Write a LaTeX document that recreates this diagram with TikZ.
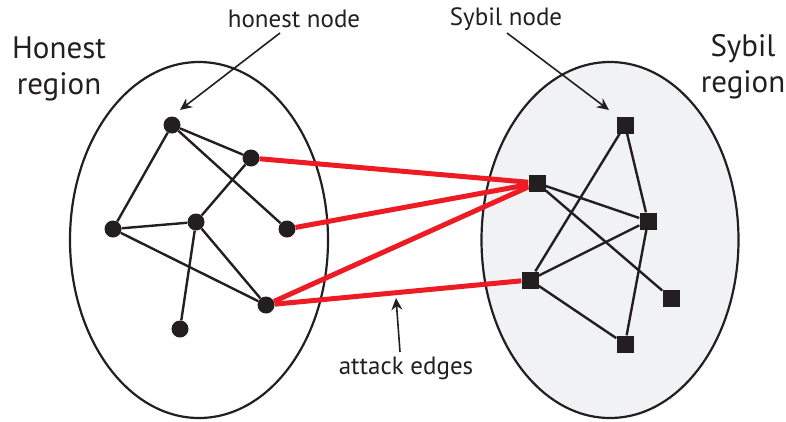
\documentclass[tikz,border=0pt]{standalone}
\usepackage{fontspec}
\setmainfont{PT Sans}
\usetikzlibrary{arrows.meta,backgrounds}
\definecolor{attackred}{RGB}{237,28,36}
\definecolor{sybilfill}{RGB}{241,242,244}
\definecolor{inkblack}{RGB}{35,31,32}
\tikzset{
  hnode/.style={circle, fill=inkblack, inner sep=0pt, minimum size=17pt},
  snode/.style={rectangle, fill=inkblack, inner sep=0pt, minimum size=17pt},
  edge/.style={draw=inkblack, line width=2.4pt},
  attack/.style={draw=attackred, line width=5pt},
  region/.style={draw=inkblack, line width=2.2pt},
  pointer/.style={draw=inkblack, line width=1.6pt, -{Stealth[length=12pt,width=11pt]}},
  biglabel/.style={font=\fontsize{31}{36}\selectfont, text=inkblack, align=center, inner sep=0pt},
  smalllabel/.style={font=\fontsize{25}{28}\selectfont, text=inkblack, inner sep=0pt}
}
\begin{document}
\begin{tikzpicture}[x=1pt,y=-1pt]
\useasboundingbox (0,0) rectangle (786,421);
% honest nodes
\node[hnode] (A) at (172,125) {};
\node[hnode] (B) at (251,158) {};
\node[hnode] (C) at (113,229) {};
\node[hnode] (D) at (196,222) {};
\node[hnode] (E) at (287,229) {};
\node[hnode] (F) at (266,305) {};
\node[hnode] (G) at (180,329) {};
% sybil nodes
\node[snode] (S1) at (625,125) {};
\node[snode] (S2) at (537,183) {};
\node[snode] (S3) at (648,221) {};
\node[snode] (S4) at (530,280) {};
\node[snode] (S5) at (671,298) {};
\node[snode] (S6) at (625,344) {};
\begin{pgfonlayer}{background}
% regions
\draw[region] (199,240) ellipse [x radius=129, y radius=178];
\draw[region, fill=sybilfill] (610,240) ellipse [x radius=128.5, y radius=178];
% honest edges
\draw[edge] (A) -- (C);
\draw[edge] (A) -- (B);
\draw[edge] (A) -- (E);
\draw[edge] (B) -- (D);
\draw[edge] (C) -- (D);
\draw[edge] (C) -- (F);
\draw[edge] (D) -- (F);
\draw[edge] (D) -- (G);
% sybil edges
\draw[edge] (S1) -- (S4);
\draw[edge] (S1) -- (S3);
\draw[edge] (S2) -- (S3);
\draw[edge] (S2) -- (S5);
\draw[edge] (S3) -- (S4);
\draw[edge] (S3) -- (S6);
\draw[edge] (S4) -- (S6);
% attack edges
\draw[attack] (B) -- (S2);
\draw[attack] (E) -- (S2);
\draw[attack] (F) -- (S2);
\draw[attack] (F) -- (S4);
\end{pgfonlayer}
% labels
\node[biglabel] (hreg) at (59,69) {Honest\\region};
\node[biglabel] (sreg) at (743,67) {Sybil\\region};
\node[smalllabel] (hlab) at (294,19) {honest node};
\node[smalllabel] (slab) at (506,19) {Sybil node};
\node[smalllabel] (alab) at (406,368) {attack edges};
\coordinate (hfrom) at (280,33);
\coordinate (hto) at (180,110);
\coordinate (sfrom) at (507,33);
\coordinate (sto) at (609,110);
\coordinate (afrom) at (400,352);
\coordinate (ato) at (396,298);
\draw[pointer] (hfrom) -- (hto);
\draw[pointer] (sfrom) -- (sto);
\draw[pointer] (afrom) -- (ato);
\end{tikzpicture}
\end{document}
